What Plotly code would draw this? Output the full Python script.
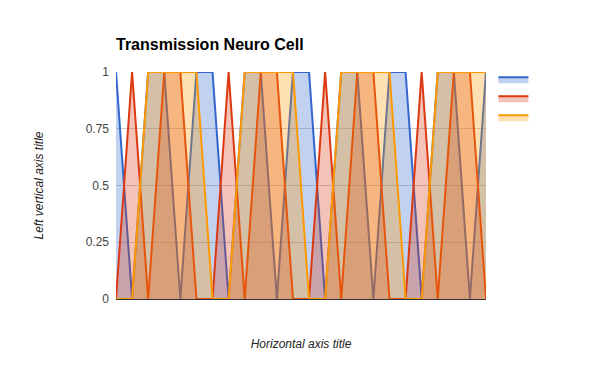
import plotly.graph_objects as go

x_vals = list(range(24))
blue_vals = [1, 0, 1, 1, 0, 1, 1, 0, 1, 1, 0, 1, 1, 0, 1, 1, 0, 1, 1, 0, 1, 1, 0, 1]
red_vals = [0, 1, 0, 1, 1, 0, 0, 1, 0, 1, 1, 0, 0, 1, 0, 1, 1, 0, 0, 1, 0, 1, 1, 0]
orange_vals = [0, 0, 1, 1, 1, 1, 0, 0, 1, 1, 1, 1, 0, 0, 1, 1, 1, 1, 0, 0, 1, 1, 1, 1]
y_ticks = [0, 0.25, 0.5, 0.75, 1]
y_tick_labels = ["0", "0.25", "0.5", "0.75", "1"]

series = [
    (blue_vals, "#3366cc", "rgba(51,102,204,0.3)"),
    (red_vals, "#dc3912", "rgba(220,57,18,0.3)"),
    (orange_vals, "#ff9900", "rgba(255,153,0,0.3)"),
]

fig = go.Figure()
for vals, col, fcol in series:
    fig.add_trace(go.Scatter(
        x=x_vals, y=vals, mode="lines", name=" ",
        line=dict(color=col, width=2),
        fill="tozeroy", fillcolor=fcol,
    ))

W, H = 592, 363
fig.update_layout(
    width=W, height=H,
    margin=dict(l=108, r=114, t=64, b=72, autoexpand=False),
    paper_bgcolor="white", plot_bgcolor="white",
    font=dict(family="Liberation Sans, Arial", size=12, color="#444"),
    title=dict(text="<b>Transmission Neuro Cell</b>", x=108/W, xanchor="left",
               y=1 - 36/H, yanchor="middle",
               font=dict(size=16, color="#000")),
    xaxis=dict(range=[0, 23], showticklabels=False, showgrid=False, zeroline=False,
               showline=False, ticks="", automargin=False,
               title=dict(text="<i>Horizontal axis title</i>", standoff=40,
                          font=dict(size=12, color="#222"))),
    yaxis=dict(range=[0, 1], tickvals=y_ticks, ticktext=y_tick_labels,
               showgrid=True, gridcolor="#cccccc", gridwidth=1,
               zeroline=True, zerolinecolor="#333333", zerolinewidth=1,
               ticks="", ticklabelstandoff=6, automargin=False,
               title=dict(text="<i>Left vertical axis title</i>", standoff=39,
                          font=dict(size=12, color="#222"))),
    legend=dict(x=1.02, y=1.032, xanchor="left", yanchor="top",
                font=dict(size=12), tracegroupgap=0, itemwidth=30),
    showlegend=True,
)

fig.write_html("out.html")
